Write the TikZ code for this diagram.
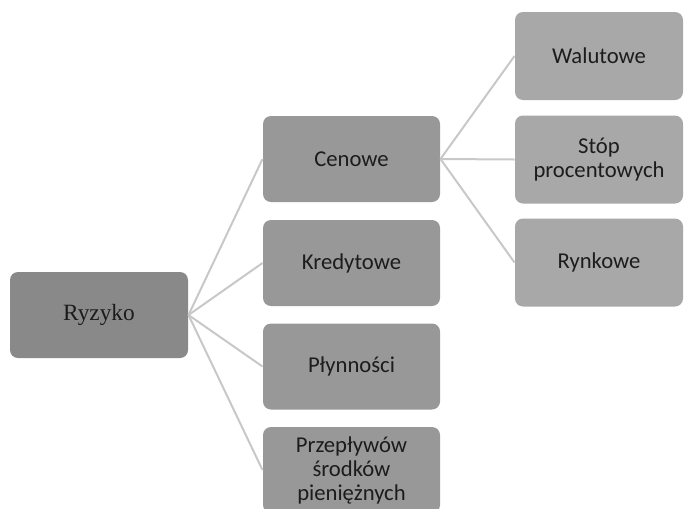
\documentclass[tikz,border=0pt]{standalone}
\usepackage{fontspec}
\setsansfont{Carlito}
\newfontfamily\rootfont{Liberation Serif}

\definecolor{rootgray}{RGB}{137,137,137}
\definecolor{midgray}{RGB}{152,152,152}
\definecolor{leafgray}{RGB}{168,168,168}
\definecolor{linkgray}{RGB}{200,200,200}
\definecolor{textgray}{RGB}{28,28,28}

\tikzset{every picture/.style={line width=0.75pt}}
\tikzset{
  rootbox/.style={rounded corners=6pt, fill=rootgray, minimum width=133.5pt, minimum height=64.5pt, inner sep=0pt, text=textgray, font=\rootfont\fontsize{17.5}{18}\selectfont},
  riskbox/.style={rounded corners=6pt, fill=midgray, minimum width=132.75pt, minimum height=64.5pt, inner sep=0pt, align=center, text=textgray, font=\sffamily\fontsize{17}{18}\selectfont},
  subbox/.style={riskbox, fill=leafgray, minimum width=126pt, minimum height=66pt},
  link/.style={draw=linkgray, line width=1.5pt}
}

\begin{document}
\begin{tikzpicture}[x=0.75pt,y=0.75pt,yscale=-1,xscale=1]
\path[use as bounding box, clip] (0,0) rectangle (684,508);

% Root
\node [rootbox] (ryzyko) at (99,315) {Ryzyko};

% Rodzaje ryzyka
\node [riskbox] (cenowe) at (351.5,159) {Cenowe};
\node [riskbox] (kredytowe) at (351.5,263) {Kredytowe};
\node [riskbox] (plynnosci) at (351.5,366.5) {Płynności};
\node [riskbox] (przeplywow) at (351.5,470) {Przepływów\\środków\\pieniężnych};

% Ryzyko cenowe
\node [subbox] (walutowe) at (599,56) {Walutowe};
\node [subbox] (stop) at (599,159.5) {Stóp\\procentowych};
\node [subbox] (rynkowe) at (599,262.5) {Rynkowe};

% Connectors
\draw [link] (ryzyko.east) -- (cenowe.west);
\draw [link] (ryzyko.east) -- (kredytowe.west);
\draw [link] (ryzyko.east) -- (plynnosci.west);
\draw [link] (ryzyko.east) -- (przeplywow.west);
\draw [link] (cenowe.east) -- (walutowe.west);
\draw [link] (cenowe.east) -- (stop.west);
\draw [link] (cenowe.east) -- (rynkowe.west);

\end{tikzpicture}
\end{document}
